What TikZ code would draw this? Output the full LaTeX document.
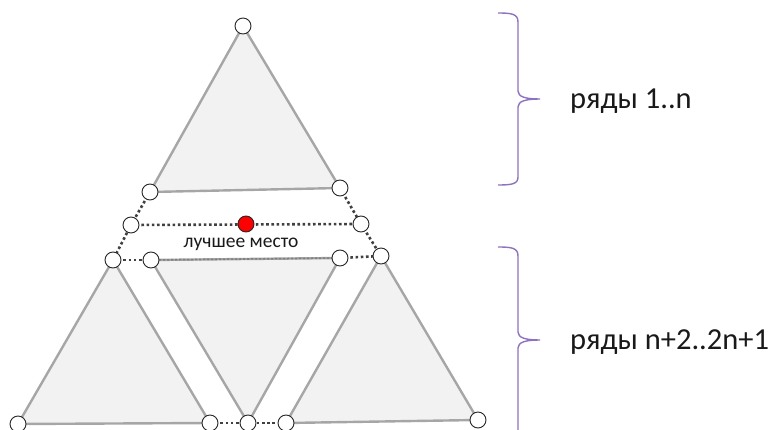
\documentclass[tikz,border=0pt]{standalone}
\usepackage{fontspec}
\setmainfont{Carlito}
\definecolor{bracecol}{HTML}{8E72C0}
\begin{document}
\begin{tikzpicture}[x=1pt,y=-1pt,
  tri/.style={fill=black!5, draw=black!35, line width=2.4pt, line join=round},
  dots/.style={draw=black!75, line width=2.6pt, dash pattern=on 2.6pt off 2.6pt},
  faintdots/.style={draw=black!50, line width=1.6pt, dash pattern=on 2.4pt off 1.6pt},
  vtx/.style={circle, draw=black!85, fill=white, line width=0.9pt, minimum size=16pt, inner sep=0pt},
  best/.style={vtx, fill=red},
  brace/.style={draw=bracecol, line width=1.4pt},
  lbl/.style={font=\fontsize{30.5}{33}\selectfont, text=black!90, anchor=west, inner sep=0pt}]
\useasboundingbox (0,0) rectangle (780,430);
% vertex positions
\coordinate (t0) at (243,26);
\coordinate (t1) at (150,192);
\coordinate (t2) at (340,188);
\coordinate (m1) at (131,225);
\coordinate (mr) at (246,224);
\coordinate (m2) at (361,224);
\coordinate (r1) at (113,260);
\coordinate (r2) at (151,260);
\coordinate (r3) at (340,258);
\coordinate (r4) at (381,256);
\coordinate (b1) at (18,424);
\coordinate (b2) at (210,423);
\coordinate (b3) at (248,423);
\coordinate (b4) at (286,423);
\coordinate (b5) at (478,420);
% triangles
\path[tri] (t0) -- (t1) -- (t2) -- cycle;
\path[tri] (r1) -- (b1) -- (b2) -- cycle;
\path[tri] (r2) -- (r3) -- (b3) -- cycle;
\path[tri] (r4) -- (b4) -- (b5) -- cycle;
% dotted connectors
\draw[faintdots] (r2) -- (r3);
\draw[dots] (t1) -- (m1) -- (r1);
\draw[dots] (t2) -- (m2) -- (r4);
\draw[dots] (m1) -- (m2);
\draw[dots] (r1) -- (r2);
\draw[dots] (r3) -- (r4);
\draw[dots] (b2) -- (b4);
% vertices
\foreach \p in {t0,t1,t2,m1,m2,r1,r2,r3,r4,b1,b2,b3,b4,b5}
  \node[vtx] (n\p) at (\p) {};
\node[best] (nmr) at (mr) {};
\node[font=\fontsize{19.5}{21}\selectfont, text=black!90, inner sep=0pt] (best) at (241,244) {лучшее место};
% braces
\draw[brace] (498,13) .. controls (512,13) and (518,14) .. (518,22) -- (518,91)
  .. controls (518,97) and (526,99) .. (540,99)
  .. controls (526,99) and (518,101) .. (518,107) -- (518,177)
  .. controls (518,184) and (512,185) .. (498,185);
\draw[brace] (498,247) .. controls (512,247) and (518,248) .. (518,256) -- (518,332)
  .. controls (518,338) and (526,340) .. (540,340)
  .. controls (526,340) and (518,342) .. (518,348) -- (518,432);
\node[lbl] (l1) at (570,101) {ряды 1..n};
\node[lbl] (l2) at (570,342) {ряды n+2..2n+1};
\end{tikzpicture}
\end{document}
